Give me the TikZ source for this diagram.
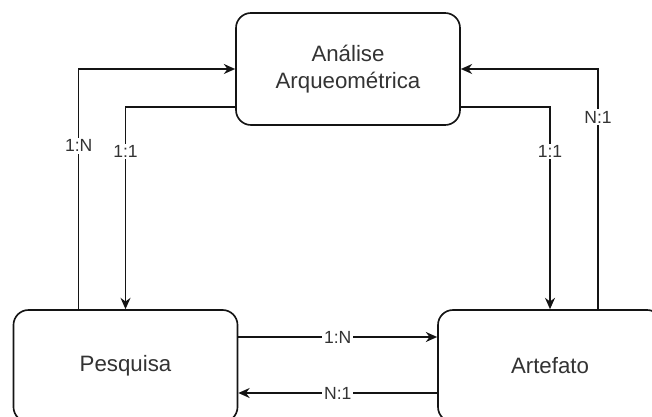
\documentclass[tikz,border=0pt]{standalone}
\usepackage{fontspec}
\setmainfont{Liberation Sans}
\usetikzlibrary{calc, positioning, arrows.meta}
\definecolor{erdink}{RGB}{20,20,20}
\definecolor{erdtext}{RGB}{51,51,51}
\tikzset{
    entitybox/.style={draw=erdink, line width=1.4pt, rounded corners=4.5mm, fill=white, minimum width=6.72cm, minimum height=3.36cm, align=center, font=\fontsize{19}{22.5}\selectfont, text=erdtext},
    relarrow/.style={-{Stealth[length=3.4mm, width=3mm]}, line width=1.4pt, draw=erdink},
    card/.style={fill=white, inner sep=1.5pt, font=\fontsize{15}{17}\selectfont, text=erdtext}
}

\begin{document}
\begin{tikzpicture}[x=0.03cm,y=0.03cm]
    \useasboundingbox (0,0) rectangle (652,416);
    \clip (0,0) rectangle (652,416);
    \node[entitybox] (analise) at (348,347) {Análise\\Arqueométrica};
    \node[entitybox] (pesquisa) at (125.5,50) {Pesquisa};
    \node[entitybox] (artefato) at (550,50) {Artefato};
    % ligacoes com a analise
    \draw[relarrow] ($(pesquisa.north west)+(66,0)$) |- (analise.west) node[card, pos=0.34] {1:N};
    \draw[relarrow] ($(analise.south west)+(0,19)$) -| (pesquisa.north) node[card, pos=0.61] {1:1};
    \draw[relarrow] ($(analise.south east)+(0,19)$) -| (artefato.north) node[card, pos=0.61] {1:1};
    \draw[relarrow] ($(artefato.north)+(48,0)$) |- (analise.east) node[card, pos=0.4] {N:1};
    % pesquisa e artefato
    \draw[relarrow] ([yshift=0.87cm]pesquisa.east) -- ([yshift=0.87cm]artefato.west) node[card, midway] {1:N};
    \draw[relarrow] ([yshift=-0.81cm]artefato.west) -- ([yshift=-0.81cm]pesquisa.east) node[card, midway] {N:1};
\end{tikzpicture}
\end{document}
